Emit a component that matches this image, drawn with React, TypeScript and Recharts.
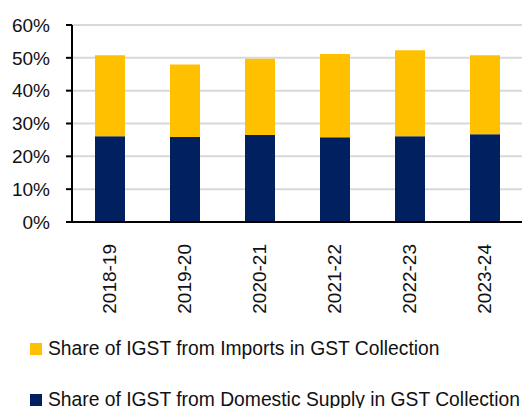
import React from "react";
import { Bar, BarChart, CartesianGrid, XAxis, YAxis } from "recharts";

const years = ["2018-19", "2019-20", "2020-21", "2021-22", "2022-23", "2023-24"];
const domestic = [26.1, 25.9, 26.5, 25.8, 26.1, 26.7];
const imports = [24.7, 22.1, 23.2, 25.4, 26.2, 24.1];
const yTicks = [0, 10, 20, 30, 40, 50, 60];

const COLORS = {
  imports: "#FFC000",
  domestic: "#002060",
  grid: "#d9d9d9",
  text: "#111111",
};

const FONT = "'Liberation Sans', Arial, sans-serif";

const data = years.map((year, i) => ({
  year,
  domestic: domestic[i],
  imports: imports[i],
}));

function YearTick({ x, y, payload }: any) {
  return (
    <g transform={`translate(${x},${y})`}>
      <text
        transform="rotate(-90)"
        x={-14}
        y={0}
        dy="0.36em"
        textAnchor="end"
        fill={COLORS.text}
        fontSize={19}
        fontFamily={FONT}
      >
        {payload.value}
      </text>
    </g>
  );
}

function LegendRow({ color, label, top }: { color: string; label: string; top: number }) {
  return (
    <div
      style={{
        position: "absolute",
        left: 30,
        top,
        display: "flex",
        alignItems: "center",
        whiteSpace: "nowrap",
        fontFamily: FONT,
        fontSize: 19.3,
        lineHeight: "22px",
        color: COLORS.text,
      }}
    >
      <span style={{ width: 12, height: 12, background: color, marginRight: 6, display: "inline-block" }} />
      {label}
    </div>
  );
}

export default function App() {
  return (
    <div style={{ position: "relative", width: 531, height: 408, overflow: "hidden", background: "#fff" }}>
      <style>{"body{margin:0}"}</style>
      <BarChart
        width={531}
        height={320}
        data={data}
        margin={{ top: 25, right: 9, left: 0, bottom: 0 }}
        barSize={30}
      >
        <CartesianGrid vertical={false} stroke={COLORS.grid} strokeWidth={2} />
        <XAxis
          dataKey="year"
          height={98}
          tickLine={false}
          axisLine={{ stroke: "#000", strokeWidth: 2 }}
          tick={<YearTick />}
          interval={0}
        />
        <YAxis
          width={72}
          domain={[0, 60]}
          ticks={yTicks}
          tickFormatter={(v) => `${v}%`}
          tickSize={6}
          tickMargin={16}
          tickLine={{ stroke: "#000", strokeWidth: 2 }}
          axisLine={{ stroke: "#000", strokeWidth: 2 }}
          tick={{ fill: COLORS.text, fontSize: 19, fontFamily: FONT }}
        />
        <Bar dataKey="domestic" stackId="a" fill={COLORS.domestic} isAnimationActive={false} />
        <Bar dataKey="imports" stackId="a" fill={COLORS.imports} isAnimationActive={false} />
      </BarChart>
      <LegendRow color={COLORS.imports} label="Share of IGST from Imports in GST Collection" top={338} />
      <LegendRow color={COLORS.domestic} label="Share of IGST from Domestic Supply in GST Collection" top={389} />
    </div>
  );
}
